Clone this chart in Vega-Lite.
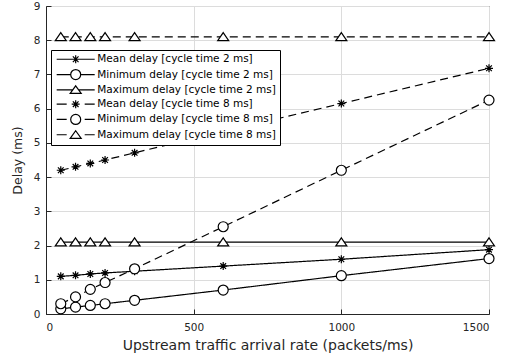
{
  "$schema": "https://vega.github.io/schema/vega-lite/v6.json",
  "width": 443,
  "height": 308,
  "autosize": {"type": "none"},
  "padding": {"left": 46, "top": 6, "right": 22, "bottom": 44},
  "background": "white",
  "config": {
    "view": {"stroke": "#262626", "strokeWidth": 1},
    "font": "DejaVu Sans",
    "axis": {
      "labelFont": "DejaVu Sans",
      "titleFont": "DejaVu Sans",
      "labelColor": "#262626",
      "titleColor": "#262626",
      "domainColor": "#262626",
      "tickColor": "#262626",
      "gridColor": "#dcdcdc",
      "gridWidth": 1,
      "tickSize": -5,
      "labelFontSize": 10.5,
      "titleFontWeight": "normal"
    }
  },
  "data": {
    "values": [
      {"series": "Mean delay [cycle time 2 ms]", "x": 50, "y": 1.1},
      {"series": "Mean delay [cycle time 2 ms]", "x": 100, "y": 1.13},
      {"series": "Mean delay [cycle time 2 ms]", "x": 150, "y": 1.17},
      {"series": "Mean delay [cycle time 2 ms]", "x": 200, "y": 1.2},
      {"series": "Mean delay [cycle time 2 ms]", "x": 300, "y": 1.25},
      {"series": "Mean delay [cycle time 2 ms]", "x": 600, "y": 1.4},
      {"series": "Mean delay [cycle time 2 ms]", "x": 1000, "y": 1.6},
      {"series": "Mean delay [cycle time 2 ms]", "x": 1500, "y": 1.88},
      {"series": "Minimum delay [cycle time 2 ms]", "x": 50, "y": 0.15},
      {"series": "Minimum delay [cycle time 2 ms]", "x": 100, "y": 0.2},
      {"series": "Minimum delay [cycle time 2 ms]", "x": 150, "y": 0.25},
      {"series": "Minimum delay [cycle time 2 ms]", "x": 200, "y": 0.3},
      {"series": "Minimum delay [cycle time 2 ms]", "x": 300, "y": 0.4},
      {"series": "Minimum delay [cycle time 2 ms]", "x": 600, "y": 0.7},
      {"series": "Minimum delay [cycle time 2 ms]", "x": 1000, "y": 1.12},
      {"series": "Minimum delay [cycle time 2 ms]", "x": 1500, "y": 1.62},
      {"series": "Maximum delay [cycle time 2 ms]", "x": 50, "y": 2.1},
      {"series": "Maximum delay [cycle time 2 ms]", "x": 100, "y": 2.1},
      {"series": "Maximum delay [cycle time 2 ms]", "x": 150, "y": 2.1},
      {"series": "Maximum delay [cycle time 2 ms]", "x": 200, "y": 2.1},
      {"series": "Maximum delay [cycle time 2 ms]", "x": 300, "y": 2.1},
      {"series": "Maximum delay [cycle time 2 ms]", "x": 600, "y": 2.1},
      {"series": "Maximum delay [cycle time 2 ms]", "x": 1000, "y": 2.1},
      {"series": "Maximum delay [cycle time 2 ms]", "x": 1500, "y": 2.1},
      {"series": "Mean delay [cycle time 8 ms]", "x": 50, "y": 4.2},
      {"series": "Mean delay [cycle time 8 ms]", "x": 100, "y": 4.3},
      {"series": "Mean delay [cycle time 8 ms]", "x": 150, "y": 4.4},
      {"series": "Mean delay [cycle time 8 ms]", "x": 200, "y": 4.5},
      {"series": "Mean delay [cycle time 8 ms]", "x": 300, "y": 4.71},
      {"series": "Mean delay [cycle time 8 ms]", "x": 600, "y": 5.33},
      {"series": "Mean delay [cycle time 8 ms]", "x": 1000, "y": 6.15},
      {"series": "Mean delay [cycle time 8 ms]", "x": 1500, "y": 7.18},
      {"series": "Minimum delay [cycle time 8 ms]", "x": 50, "y": 0.3},
      {"series": "Minimum delay [cycle time 8 ms]", "x": 100, "y": 0.5},
      {"series": "Minimum delay [cycle time 8 ms]", "x": 150, "y": 0.72},
      {"series": "Minimum delay [cycle time 8 ms]", "x": 200, "y": 0.92},
      {"series": "Minimum delay [cycle time 8 ms]", "x": 300, "y": 1.32},
      {"series": "Minimum delay [cycle time 8 ms]", "x": 600, "y": 2.55},
      {"series": "Minimum delay [cycle time 8 ms]", "x": 1000, "y": 4.2},
      {"series": "Minimum delay [cycle time 8 ms]", "x": 1500, "y": 6.25},
      {"series": "Maximum delay [cycle time 8 ms]", "x": 50, "y": 8.1},
      {"series": "Maximum delay [cycle time 8 ms]", "x": 100, "y": 8.1},
      {"series": "Maximum delay [cycle time 8 ms]", "x": 150, "y": 8.1},
      {"series": "Maximum delay [cycle time 8 ms]", "x": 200, "y": 8.1},
      {"series": "Maximum delay [cycle time 8 ms]", "x": 300, "y": 8.1},
      {"series": "Maximum delay [cycle time 8 ms]", "x": 600, "y": 8.1},
      {"series": "Maximum delay [cycle time 8 ms]", "x": 1000, "y": 8.1},
      {"series": "Maximum delay [cycle time 8 ms]", "x": 1500, "y": 8.1}
    ]
  },
  "encoding": {
    "x": {
      "field": "x", "type": "quantitative",
      "scale": {"domain": [0, 1500], "nice": false},
      "axis": {"values": [0, 500, 1000, 1500], "format": "d", "title": "Upstream traffic arrival rate (packets/ms)", "titleFontSize": 14, "labelPadding": 13, "titlePadding": 6, "grid": true}
    },
    "y": {
      "field": "y", "type": "quantitative",
      "scale": {"domain": [0, 9], "nice": false},
      "axis": {"values": [0, 1, 2, 3, 4, 5, 6, 7, 8, 9], "title": "Delay (ms)", "titleFontSize": 12.5, "labelPadding": 11, "titlePadding": 9, "grid": true}
    }
  },
  "layer": [
    {
      "mark": {"type": "line", "color": "black", "strokeWidth": 1.2},
      "encoding": {
        "detail": {"field": "series"},
        "strokeDash": {
          "field": "series", "type": "nominal", "legend": null,
          "scale": {
            "domain": ["Mean delay [cycle time 2 ms]", "Minimum delay [cycle time 2 ms]", "Maximum delay [cycle time 2 ms]", "Mean delay [cycle time 8 ms]", "Minimum delay [cycle time 8 ms]", "Maximum delay [cycle time 8 ms]"],
            "range": [[1, 0], [1, 0], [1, 0], [8, 5], [8, 5], [8, 5]]
          }
        }
      }
    },
    {
      "mark": {"type": "point", "filled": true, "fill": "white", "stroke": "black", "strokeWidth": 1.2, "size": 100, "opacity": 1},
      "encoding": {
        "shape": {
          "field": "series", "type": "nominal", "legend": null,
          "scale": {
            "domain": ["Mean delay [cycle time 2 ms]", "Minimum delay [cycle time 2 ms]", "Maximum delay [cycle time 2 ms]", "Mean delay [cycle time 8 ms]", "Minimum delay [cycle time 8 ms]", "Maximum delay [cycle time 8 ms]"],
            "range": [
              "M0,-0.8L0,0.8M-0.8,0L0.8,0M-0.57,-0.57L0.57,0.57M-0.57,0.57L0.57,-0.57",
              "M-1,0A1,1 0 1,0 1,0A1,1 0 1,0 -1,0Z",
              "M0,-0.85L1.1,0.75L-1.1,0.75Z",
              "M0,-0.8L0,0.8M-0.8,0L0.8,0M-0.57,-0.57L0.57,0.57M-0.57,0.57L0.57,-0.57",
              "M-1,0A1,1 0 1,0 1,0A1,1 0 1,0 -1,0Z",
              "M0,-0.85L1.1,0.75L-1.1,0.75Z"
            ]
          }
        }
      }
    },
    {
      "transform": [{"filter": "datum.x < 0"}],
      "mark": {"type": "point", "filled": false, "color": "black", "strokeWidth": 1.2, "size": 64, "opacity": 1},
      "encoding": {
        "shape": {
          "field": "series", "type": "nominal",
          "scale": {
            "domain": ["Mean delay [cycle time 2 ms]", "Minimum delay [cycle time 2 ms]", "Maximum delay [cycle time 2 ms]", "Mean delay [cycle time 8 ms]", "Minimum delay [cycle time 8 ms]", "Maximum delay [cycle time 8 ms]"],
            "range": [
              "M-0.89,0L8.61,0M3.86,-1L3.86,1M3.15,-0.71L4.57,0.71M3.15,0.71L4.57,-0.71",
              "M-0.89,0L2.61,0M5.11,0L8.61,0M2.61,0A1.25,1.25 0 1,0 5.11,0A1.25,1.25 0 1,0 2.61,0Z",
              "M-0.89,0L3.14,0M4.58,0L8.61,0M3.86,-1L5.235,0.9L2.485,0.9Z",
              "M-0.89,0L1.61,0M6.11,0L8.61,0M2.86,0L4.86,0M3.86,-1L3.86,1M3.15,-0.71L4.57,0.71M3.15,0.71L4.57,-0.71",
              "M-0.89,0L1.61,0M6.11,0L8.61,0M2.61,0A1.25,1.25 0 1,0 5.11,0A1.25,1.25 0 1,0 2.61,0Z",
              "M-0.89,0L1.61,0M6.11,0L8.61,0M3.86,-1L5.235,0.9L2.485,0.9Z"
            ]
          },
          "legend": {
            "title": null,
            "orient": "none",
            "legendX": 5,
            "legendY": 44,
            "padding": 4,
            "strokeColor": "black",
            "fillColor": "white",
            "cornerRadius": 0,
            "symbolSize": 64,
            "symbolStrokeWidth": 1.2,
            "symbolStrokeColor": "black",
            "symbolOpacity": 1,
            "labelFont": "DejaVu Sans",
            "labelFontSize": 10.5,
            "labelColor": "black",
            "labelOffset": 31.8,
            "rowPadding": 0.3,
            "labelLimit": 400
          }
        }
      }
    }
  ],
  "resolve": {"scale": {"shape": "independent"}}
}
